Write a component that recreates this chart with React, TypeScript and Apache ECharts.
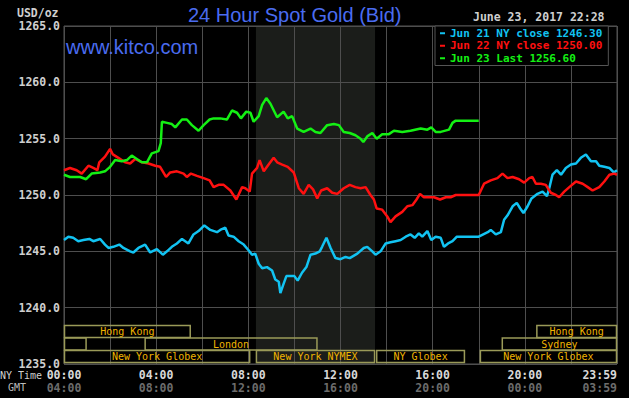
import React, { useEffect, useRef } from "react";
import * as echarts from "echarts";

// ---- Data (hours after 00:00 NY time, price USD/oz) ----
const jun21: [number, number][] = [
  [0, 1246.0], [0.19, 1246.3], [0.4, 1246.2], [0.62, 1245.9], [0.84, 1246.0], [1.1, 1246.1], [1.27, 1245.9],
  [1.57, 1246.1], [1.78, 1245.6], [1.93, 1245.3], [2.14, 1245.4], [2.4, 1245.6], [2.58, 1245.3], [2.87, 1245.0],
  [3.01, 1244.9], [3.23, 1245.3], [3.52, 1245.6], [3.74, 1244.9], [4.03, 1245.2], [4.29, 1244.7], [4.47, 1245.0],
  [4.68, 1245.4], [4.9, 1245.7], [5.12, 1246.1], [5.4, 1245.7], [5.62, 1246.5], [5.84, 1246.8], [6.09, 1247.3],
  [6.35, 1246.9], [6.64, 1246.7], [6.78, 1246.9], [7.0, 1247.1], [7.14, 1246.4], [7.36, 1246.3], [7.58, 1245.9],
  [7.8, 1245.6], [8.01, 1245.1], [8.16, 1244.7], [8.3, 1244.8], [8.45, 1243.9], [8.6, 1243.5], [8.81, 1243.6],
  [9.03, 1243.3], [9.17, 1242.5], [9.32, 1242.3], [9.39, 1241.3], [9.51, 1242.0], [9.65, 1242.8], [9.83, 1242.8],
  [10.0, 1242.8], [10.14, 1242.4], [10.33, 1243.1], [10.52, 1243.6], [10.7, 1244.7], [10.91, 1244.8], [11.1, 1245.0],
  [11.2, 1245.4], [11.39, 1246.2], [11.57, 1245.3], [11.78, 1244.4], [12.0, 1244.3], [12.22, 1244.5], [12.4, 1244.4],
  [12.73, 1244.8], [13.01, 1245.3], [13.16, 1245.4], [13.38, 1245.0], [13.52, 1244.7], [13.74, 1245.0], [13.96, 1245.7],
  [14.17, 1245.8], [14.39, 1245.9], [14.61, 1246.0], [14.83, 1246.3], [15.04, 1246.5], [15.22, 1246.2], [15.4, 1246.6],
  [15.55, 1246.3], [15.77, 1246.8], [15.94, 1246.0], [16.13, 1246.3], [16.35, 1246.2], [16.49, 1245.4], [16.67, 1245.7],
  [16.86, 1245.9], [17.05, 1246.3], [18.0, 1246.3], [18.39, 1246.7], [18.52, 1246.9], [18.74, 1246.5], [18.96, 1246.7],
  [19.1, 1247.8], [19.25, 1248.2], [19.47, 1249.0], [19.65, 1249.3], [19.8, 1248.8], [19.94, 1248.4], [20.12, 1249.0],
  [20.29, 1249.7], [20.55, 1250.1], [20.77, 1250.3], [20.96, 1249.9], [21.06, 1250.6], [21.2, 1251.8], [21.39, 1252.2],
  [21.57, 1251.8], [21.78, 1252.4], [22.0, 1252.7], [22.22, 1252.8], [22.43, 1253.3], [22.65, 1253.6], [22.87, 1253.0],
  [23.09, 1253.0], [23.23, 1252.6], [23.45, 1252.5], [23.67, 1252.4], [23.86, 1252.0], [24.0, 1252.2],
];

const jun22: [number, number][] = [
  [0, 1252.2], [0.26, 1252.4], [0.55, 1252.2], [0.77, 1251.9], [1.06, 1252.6], [1.27, 1252.4], [1.45, 1252.2],
  [1.53, 1252.9], [1.78, 1253.4], [2.0, 1254.1], [2.12, 1253.6], [2.36, 1253.3], [2.65, 1252.9], [2.87, 1252.8],
  [3.09, 1253.2], [3.38, 1252.9], [3.67, 1252.8], [3.96, 1252.6], [4.17, 1252.5], [4.43, 1251.6], [4.61, 1252.0],
  [4.9, 1252.1], [5.19, 1251.9], [5.33, 1251.6], [5.51, 1251.9], [5.77, 1251.7], [6.06, 1251.5], [6.32, 1251.3],
  [6.49, 1250.7], [6.71, 1250.9], [6.93, 1250.9], [7.22, 1250.4], [7.48, 1249.6], [7.73, 1250.7], [7.87, 1250.6],
  [8.06, 1250.3], [8.16, 1251.9], [8.38, 1252.4], [8.49, 1253.1], [8.67, 1252.1], [8.88, 1252.7], [9.1, 1253.3],
  [9.25, 1252.9], [9.47, 1252.7], [9.71, 1252.5], [9.97, 1252.0], [10.19, 1250.6], [10.4, 1250.1], [10.62, 1250.9],
  [10.81, 1250.5], [10.99, 1249.7], [11.16, 1250.4], [11.42, 1250.6], [11.64, 1250.2], [11.86, 1250.1], [12.14, 1250.6],
  [12.4, 1250.9], [12.65, 1250.7], [12.87, 1250.6], [13.09, 1250.7], [13.3, 1250.0], [13.45, 1249.6], [13.57, 1248.8],
  [13.81, 1248.7], [14.03, 1248.1], [14.17, 1247.6], [14.39, 1248.1], [14.68, 1248.5], [14.9, 1249.0], [15.12, 1249.1],
  [15.3, 1249.6], [15.45, 1250.1], [15.62, 1249.8], [15.84, 1249.8], [16.06, 1249.8], [16.32, 1249.6], [16.57, 1249.8],
  [16.78, 1249.8], [17.0, 1250.0], [18.0, 1250.0], [18.23, 1251.0], [18.52, 1251.3], [18.81, 1251.5], [19.03, 1251.9],
  [19.25, 1251.5], [19.47, 1251.6], [19.75, 1251.4], [19.97, 1251.1], [20.19, 1251.5], [20.33, 1251.6], [20.48, 1251.0],
  [20.7, 1251.0], [20.91, 1250.9], [21.13, 1250.2], [21.35, 1250.0], [21.49, 1249.8], [21.71, 1250.3], [21.93, 1250.7],
  [22.22, 1251.2], [22.51, 1251.0], [22.73, 1250.7], [22.94, 1250.4], [23.23, 1250.7], [23.45, 1251.2], [23.67, 1251.8],
  [23.88, 1251.9], [24.0, 1251.8],
];

const jun23: [number, number][] = [
  [0, 1251.8], [0.26, 1251.6], [0.7, 1251.6], [0.96, 1251.4], [1.2, 1251.9], [1.57, 1252.0], [1.78, 1252.1],
  [2.0, 1252.5], [2.22, 1253.1], [2.51, 1253.0], [2.73, 1253.1], [2.94, 1253.5], [3.16, 1253.2], [3.38, 1252.9],
  [3.6, 1252.9], [3.81, 1253.7], [4.1, 1253.9], [4.2, 1254.6], [4.25, 1256.5], [4.47, 1256.4], [4.68, 1256.3],
  [4.83, 1256.0], [5.12, 1256.7], [5.33, 1256.7], [5.55, 1256.2], [5.84, 1255.7], [6.06, 1256.2], [6.32, 1256.7],
  [6.49, 1256.8], [6.78, 1256.8], [7.07, 1256.7], [7.29, 1257.5], [7.51, 1257.3], [7.68, 1256.8], [7.91, 1257.4],
  [8.09, 1257.3], [8.23, 1256.5], [8.45, 1257.0], [8.6, 1258.0], [8.78, 1258.6], [8.96, 1258.1], [9.25, 1256.9],
  [9.53, 1257.4], [9.71, 1256.8], [9.9, 1257.0], [10.12, 1255.9], [10.4, 1255.6], [10.7, 1255.9], [10.91, 1255.6],
  [11.13, 1255.5], [11.42, 1256.2], [11.71, 1256.3], [11.93, 1256.2], [12.14, 1255.6], [12.4, 1255.5], [12.65, 1255.3],
  [12.87, 1255.0], [12.99, 1254.7], [13.16, 1255.2], [13.38, 1255.5], [13.57, 1255.0], [13.81, 1255.4], [14.1, 1255.4],
  [14.32, 1255.7], [14.68, 1255.6], [15.04, 1255.7], [15.48, 1255.9], [15.77, 1255.8], [15.94, 1256.0], [16.13, 1255.6],
  [16.35, 1255.6], [16.71, 1255.8], [16.86, 1256.4], [17.0, 1256.6], [18.0, 1256.6],
];

const seriesNames = ["Jun 21 NY close 1246.30", "Jun 22 NY close 1250.00", "Jun 23 Last 1256.60"];
const seriesColors = ["#12c3f2", "#ff1010", "#14f014"];

const nyTimeLabels = ["00:00", "04:00", "08:00", "12:00", "16:00", "20:00", "23:59"];
const gmtTimeLabels = ["04:00", "08:00", "12:00", "16:00", "20:00", "00:00", "03:59"];

// trading sessions: [start hour, end hour, row (0 = top)]
const sessionNames = ["Hong Kong", "", "London", "New York Globex", "New York NYMEX", "NY Globex", "New York Globex", "Sydney", "Hong Kong"];
const sessionSpans: [number, number, number][] = [
  [0, 5.5, 0], [0, 0.98, 1], [3.5, 11, 1], [0, 8.08, 2], [8.33, 13.5, 2], [13.55, 17.4, 2], [18.05, 24, 2], [19, 24, 1], [20.5, 24, 0],
];
const nymexPit: [number, number][] = [[8.33, 13.5]];

const Y_MIN = 1235;
const Y_MAX = 1265;

export default function App() {
  const ref = useRef<HTMLDivElement>(null);
  useEffect(() => {
    document.body.style.margin = "0";
    document.body.style.background = "#000";
    const chart = echarts.init(ref.current!, null, { renderer: "svg" });
    const mono = "DejaVu Sans Mono";
    const blue = "#4a6cf0";
    const series: any[] = [
      {
        type: "custom",
        name: "pit",
        z: -1,
        silent: true,
        data: nymexPit,
        encode: { x: [0, 1] },
        renderItem: (params: any, api: any) => {
          const a = api.coord([api.value(0), Y_MAX]);
          const b = api.coord([api.value(1), Y_MIN]);
          return { type: "rect", shape: { x: a[0], y: a[1], width: b[0] - a[0], height: b[1] - a[1] }, style: { fill: "#1b1d1a" } };
        },
      },
      ...[jun21, jun22, jun23].map((d, i) => ({
        type: "line",
        name: seriesNames[i],
        data: d,
        showSymbol: false,
        z: 3 + i,
        lineStyle: { width: 2.5, color: seriesColors[i] },
        itemStyle: { color: seriesColors[i] },
      })),
      {
        type: "custom",
        name: "sessions",
        silent: true,
        z: 2,
        data: sessionSpans,
        encode: { x: [0, 1] },
        renderItem: (params: any, api: any) => {
          const s = api.value(0), e = api.value(1), row = api.value(2);
          const p0 = api.coord([s, Y_MIN]);
          const p1 = api.coord([e, Y_MIN]);
          const rowH = 12.5;
          const bottom = p0[1] - 1.5;
          const top = bottom - (3 - row) * rowH;
          const name = sessionNames[params.dataIndex];
          return {
            type: "group",
            children: [
              { type: "rect", shape: { x: p0[0] + 0.5, y: top + 0.5, width: p1[0] - p0[0] - 1, height: rowH - 0.5 }, style: { fill: "none", stroke: "#9a9a58", lineWidth: 1.5 } },
              { type: "text", style: { text: name, x: (p0[0] + p1[0]) / 2, y: top + rowH / 2 + 0.5, align: "center", verticalAlign: "middle", fill: "#f0b400", font: `10px '${mono}'` } },
            ],
          };
        },
      },
    ];
    chart.setOption({
      animation: false,
      backgroundColor: "#000",
      title: [
        { text: "24 Hour Spot Gold (Bid)", left: 188, top: 5, padding: 0, textStyle: { color: blue, fontSize: 20, fontWeight: "normal", fontFamily: "Liberation Sans" } },
        { text: "www.kitco.com", left: 66, top: 37, padding: 0, textStyle: { color: blue, fontSize: 20, fontWeight: "normal", fontFamily: "Liberation Sans" } },
        { text: "June 23, 2017 22:28", left: 473, top: 11, padding: 0, textStyle: { color: "#cfcfcf", fontSize: 11.5, fontWeight: "bold", fontFamily: mono } },
      ],
      legend: {
        left: 435,
        top: 26,
        orient: "vertical",
        selectedMode: false,
        backgroundColor: "#000",
        borderColor: "#555",
        borderWidth: 1,
        padding: [1, 6, 1, 5],
        itemGap: 0,
        itemWidth: 5,
        itemHeight: 2,
        icon: "rect",
        data: seriesNames.map((n, i) => ({ name: n, itemStyle: { color: seriesColors[i] }, textStyle: { color: seriesColors[i] } })),
        textStyle: { fontFamily: mono, fontSize: 11, fontWeight: "bold", lineHeight: 12.5 },
      },
      grid: { left: 64, right: 12, top: 26, bottom: 34, show: true, borderColor: "#555", borderWidth: 1, backgroundColor: "transparent" },
      xAxis: {
        type: "value",
        min: 0,
        max: 24,
        interval: 2,
        axisLine: { show: false },
        axisTick: { show: false },
        splitLine: { show: true, lineStyle: { color: "#4e4e4e", width: 1 } },
        axisLabel: {
          margin: 5,
          showMinLabel: true,
          showMaxLabel: true,
          alignMaxLabel: "right",
          formatter: (v: number) => {
            if (v % 4 !== 0 && v !== 24) return "";
            const idx = v === 24 ? 6 : v / 4;
            return `{a|${nyTimeLabels[idx]}}\n{b|${gmtTimeLabels[idx]}}`;
          },
          rich: {
            a: { color: "#d8d8d8", fontFamily: mono, fontWeight: "bold", fontSize: 11.5, lineHeight: 11 },
            b: { color: "#6c6c6c", fontFamily: mono, fontWeight: "bold", fontSize: 11.5, lineHeight: 15 },
          },
        },
      },
      yAxis: {
        type: "value",
        min: Y_MIN,
        max: Y_MAX,
        interval: 5,
        axisLine: { show: false },
        axisTick: { show: false },
        splitLine: { show: true, lineStyle: { color: "#4e4e4e", width: 1 } },
        axisLabel: { margin: 4, color: "#cfcfcf", fontFamily: mono, fontWeight: "bold", fontSize: 11.5, lineHeight: 11, formatter: (v: number) => v.toFixed(1) },
      },
      graphic: [
        { type: "text", left: 17, top: 7, style: { text: "USD/oz", fill: "#cfcfcf", font: `bold 11.5px '${mono}'` } },
        { type: "text", left: 0, top: 370, style: { text: "NY Time", fill: "#cfcfcf", font: `10px '${mono}'` } },
        { type: "text", left: 8, top: 382, style: { text: "GMT", fill: "#bdbdbd", font: `10px '${mono}'` } },
      ],
      series,
    });
    return () => chart.dispose();
  }, []);
  return <div ref={ref} style={{ position: "fixed", left: 0, top: 0, width: 629, height: 398, background: "#000" }} />;
}
